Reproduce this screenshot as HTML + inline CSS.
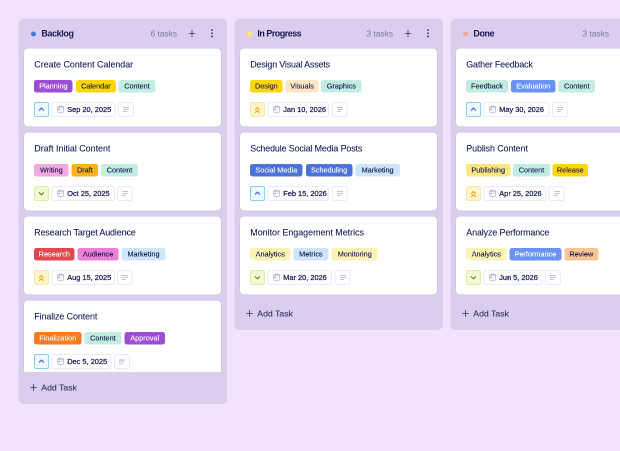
<!DOCTYPE html>
<html lang="en"><head><meta charset="utf-8"><title>Board</title>
<style>
html,body{margin:0;padding:0}
body{width:620px;height:451px;overflow:hidden;background:#f2e2fd;font-family:"Liberation Sans",sans-serif;color:#0a1551;position:relative}
.col{position:absolute;top:37px;width:417px;background:#dbcdec;border-radius:11px}
.hd{position:absolute;left:0;top:1px;width:416px;height:60px}
.dot{position:absolute;left:25.2px;top:25.2px;width:10px;height:10px;border-radius:50%}
.nm{position:absolute;left:45.8px;top:17.2px;font-size:17.8px;line-height:24px;font-weight:700;white-space:nowrap;color:#161a56;letter-spacing:-0.7px}
.ct{position:absolute;top:18px;font-size:16.8px;line-height:24px;white-space:nowrap;color:#7c7a9b}
.plus{position:absolute}
.list{position:absolute;left:0;top:59px;width:416px;overflow:hidden}
.card{position:absolute;left:11px;width:394px;height:156px;background:#fff;border-radius:8px;box-shadow:0 0 0 1px rgba(150,160,230,.35)}
.tt{position:absolute;left:20.6px;top:19.8px;font-size:17.8px;line-height:24px;white-space:nowrap;color:#151b59;-webkit-text-stroke:0.16px #151b59}
.tag{position:absolute;top:63px;height:25px;border-radius:5px;font-size:14.6px;line-height:25px;-webkit-text-stroke:0.2px;text-align:center;white-space:nowrap;overflow:hidden}
.pr{position:absolute;left:20px;top:107px;width:30px;height:30px;box-sizing:border-box;border-radius:4px;border:2px solid}
.pr .ic{position:absolute;left:-2px;top:-2px}
.dt{position:absolute;top:107px;height:30px;box-sizing:border-box;border:2px solid #e9ebfa;border-radius:5px;background:#fff}
.dt .cal{position:absolute;left:9.2px;top:5px}
.dt span{position:absolute;left:29.6px;top:1.2px;font-size:14.8px;line-height:24px;font-weight:400;white-space:nowrap;color:#23275f;-webkit-text-stroke:0.56px #23275f}
.lb{position:absolute;top:107px;height:30px;box-sizing:border-box;border:2px solid #e9ebfa;border-radius:5px;background:#fff}
.lb .li{position:absolute;top:8px}
.add{position:absolute;left:0;width:416px;height:64px}
.add span{position:absolute;left:45.6px;top:19.2px;font-size:17.4px;line-height:24px;white-space:nowrap;color:#34376b;-webkit-text-stroke:0.24px #34376b}
</style></head><body><div id="w" style="position:absolute;left:0;top:0;width:1240px;height:902px;transform:scale(.5);transform-origin:0 0;will-change:transform">

<div class="col" style="left:37px;height:771px">
<div class="hd"><i class="dot" style="background:#4b73d9"></i><b class="nm">Backlog</b><span class="ct" style="left:264px">6 tasks</span>
<svg class="plus" style="left:340.2px;top:21.8px" width="14" height="14" viewBox="0 0 7 7" stroke="#30336a" stroke-width="0.85" fill="none"><path d="M3.5 0.4 V6.6 M0.4 3.5 H6.6"/></svg>
<svg class="plus" style="left:383.8px;top:20.2px" width="6" height="18" viewBox="0 0 3 9" fill="#2a2d63"><rect x="0.7" y="0.4" width="1.6" height="1.6" rx=".5"/><rect x="0.7" y="3.5" width="1.6" height="1.6" rx=".5"/><rect x="0.7" y="6.6" width="1.6" height="1.6" rx=".5"/></svg>
</div>
<div class="list" style="height:648px">
<div class="card" style="top:1px">
<div class="tt">Create Content Calendar</div>
<span class="tag" style="left:20.2px;width:77.2px;background:#9c4dd3;color:#fff">Planning</span>
<span class="tag" style="left:103.6px;width:80.4px;background:#ffd60a;color:#0a1551">Calendar</span>
<span class="tag" style="left:189.4px;width:73.2px;background:#c3ede0;color:#0a1551">Content</span>
<div class="pr" style="background:#eff7ff;border-color:#8bd0fb"><svg class="ic" width="30" height="30" viewBox="0 0 15 15" fill="none" stroke="#4470d8" stroke-width="1.3" stroke-linecap="round" stroke-linejoin="round"><path d="M5.35 8.1 L7.4 6.05 L9.45 8.1" /></svg></div>
<div class="dt" style="left:54.8px;width:127.8px"><svg class="cal" width="14" height="14.8" viewBox="0 0 7 7.4" fill="none" stroke="#9497c0" stroke-width="0.5"><rect x="0.55" y="0.95" width="6.1" height="6.05" rx="1.2" fill="#f7f7fc"/><path d="M0.55 2.35 H6.65"/><path stroke-width="0.6" d="M2.35 0.15 V1.15 M4.95 0.15 V1.15"/><rect x="1.5" y="3.4" width="1.4" height="1.4" rx=".2" fill="#a4a7c8" stroke="none"/></svg><span>Sep 20, 2025</span></div>
<div class="lb" style="left:188.2px;width:31.4px"><svg class="li" style="left:7.8px" width="12" height="10" viewBox="0 0 6 5" fill="#c2c3dc"><rect x="0" y="0" width="6" height="1"/><rect x="0" y="2" width="6" height="1"/><rect x="0" y="4" width="4" height="1"/></svg></div>
</div>
<div class="card" style="top:169px">
<div class="tt">Draft Initial Content</div>
<span class="tag" style="left:20.2px;width:69px;background:#f5a8e0;color:#0a1551">Writing</span>
<span class="tag" style="left:95px;width:53.4px;background:#ffb020;color:#0a1551">Draft</span>
<span class="tag" style="left:154.2px;width:73.6px;background:#c3ede0;color:#0a1551">Content</span>
<div class="pr" style="background:#f3f8d4;border-color:#d6f3a2"><svg class="ic" width="30" height="30" viewBox="0 0 15 15" fill="none" stroke="#85862a" stroke-width="1.3" stroke-linecap="round" stroke-linejoin="round"><path d="M5.35 6.8 L7.4 8.85 L9.45 6.8" /></svg></div>
<div class="dt" style="left:54.8px;width:126.8px"><svg class="cal" width="14" height="14.8" viewBox="0 0 7 7.4" fill="none" stroke="#9497c0" stroke-width="0.5"><rect x="0.55" y="0.95" width="6.1" height="6.05" rx="1.2" fill="#f7f7fc"/><path d="M0.55 2.35 H6.65"/><path stroke-width="0.6" d="M2.35 0.15 V1.15 M4.95 0.15 V1.15"/><rect x="1.5" y="3.4" width="1.4" height="1.4" rx=".2" fill="#a4a7c8" stroke="none"/></svg><span>Oct 25, 2025</span></div>
<div class="lb" style="left:186.4px;width:31px"><svg class="li" style="left:7.6px" width="12" height="10" viewBox="0 0 6 5" fill="#c2c3dc"><rect x="0" y="0" width="6" height="1"/><rect x="0" y="2" width="6" height="1"/><rect x="0" y="4" width="4" height="1"/></svg></div>
</div>
<div class="card" style="top:337px">
<div class="tt" style="letter-spacing:-0.24px">Research Target Audience</div>
<span class="tag" style="left:20.2px;width:80.8px;background:#e0484e;color:#fff">Research</span>
<span class="tag" style="left:106.8px;width:82.6px;background:#ee7fd6;color:#0a1551">Audience</span>
<span class="tag" style="left:195.2px;width:87.6px;background:#cfe5fb;color:#0a1551">Marketing</span>
<div class="pr" style="background:#fcf6cb;border-color:#fee6ab"><svg class="ic" width="30" height="30" viewBox="0 0 15 15" fill="none" stroke="#f9a01f" stroke-width="1.3" stroke-linecap="round" stroke-linejoin="round"><path stroke-width="1.15" stroke-linecap="butt" d="M5.1 7.7 L7.4 5.5 L9.7 7.7 M5.1 10.8 L7.4 8.6 L9.7 10.8" /></svg></div>
<div class="dt" style="left:54.8px;width:126.8px"><svg class="cal" width="14" height="14.8" viewBox="0 0 7 7.4" fill="none" stroke="#9497c0" stroke-width="0.5"><rect x="0.55" y="0.95" width="6.1" height="6.05" rx="1.2" fill="#f7f7fc"/><path d="M0.55 2.35 H6.65"/><path stroke-width="0.6" d="M2.35 0.15 V1.15 M4.95 0.15 V1.15"/><rect x="1.5" y="3.4" width="1.4" height="1.4" rx=".2" fill="#a4a7c8" stroke="none"/></svg><span>Aug 15, 2025</span></div>
<div class="lb" style="left:186.4px;width:31px"><svg class="li" style="left:7.6px" width="12" height="10" viewBox="0 0 6 5" fill="#c2c3dc"><rect x="0" y="0" width="6" height="1"/><rect x="0" y="2" width="6" height="1"/><rect x="0" y="4" width="4" height="1"/></svg></div>
</div>
<div class="card" style="top:505px">
<div class="tt" style="letter-spacing:-0.16px">Finalize Content</div>
<span class="tag" style="left:20.2px;width:94.8px;background:#ff7b1c;color:#fff">Finalization</span>
<span class="tag" style="left:120.8px;width:74px;background:#c3ede0;color:#0a1551">Content</span>
<span class="tag" style="left:200.8px;width:81.2px;background:#9c4dd3;color:#fff">Approval</span>
<div class="pr" style="background:#eff7ff;border-color:#8bd0fb"><svg class="ic" width="30" height="30" viewBox="0 0 15 15" fill="none" stroke="#4470d8" stroke-width="1.3" stroke-linecap="round" stroke-linejoin="round"><path d="M5.35 8.1 L7.4 6.05 L9.45 8.1" /></svg></div>
<div class="dt" style="left:54.8px;width:120.6px"><svg class="cal" width="14" height="14.8" viewBox="0 0 7 7.4" fill="none" stroke="#9497c0" stroke-width="0.5"><rect x="0.55" y="0.95" width="6.1" height="6.05" rx="1.2" fill="#f7f7fc"/><path d="M0.55 2.35 H6.65"/><path stroke-width="0.6" d="M2.35 0.15 V1.15 M4.95 0.15 V1.15"/><rect x="1.5" y="3.4" width="1.4" height="1.4" rx=".2" fill="#a4a7c8" stroke="none"/></svg><span>Dec 5, 2025</span></div>
<div class="lb" style="left:180.4px;width:31.4px"><svg class="li" style="left:7.6px" width="12" height="10" viewBox="0 0 6 5" fill="#d2d3e6"><rect x="0" y="0.1" width="5.7" height="3.15"/><rect x="0" y="4" width="3.8" height="0.8" fill="#c2c3dc"/></svg></div>
</div>
</div>
<div class="add" style="top:707px"><svg class="plus" style="left:22.8px;top:23.8px" width="14" height="14" viewBox="0 0 7 7" stroke="#34376b" stroke-width="0.85" fill="none"><path d="M3.5 0.2 V6.8 M0.2 3.5 H6.8"/></svg><span>Add Task</span></div>
</div>
<div class="col" style="left:469px;height:623px">
<div class="hd"><i class="dot" style="background:#fce96a"></i><b class="nm" style="letter-spacing:-0.94px">In Progress</b><span class="ct" style="left:264px">3 tasks</span>
<svg class="plus" style="left:340.2px;top:21.8px" width="14" height="14" viewBox="0 0 7 7" stroke="#30336a" stroke-width="0.85" fill="none"><path d="M3.5 0.4 V6.6 M0.4 3.5 H6.6"/></svg>
<svg class="plus" style="left:383.8px;top:20.2px" width="6" height="18" viewBox="0 0 3 9" fill="#2a2d63"><rect x="0.7" y="0.4" width="1.6" height="1.6" rx=".5"/><rect x="0.7" y="3.5" width="1.6" height="1.6" rx=".5"/><rect x="0.7" y="6.6" width="1.6" height="1.6" rx=".5"/></svg>
</div>
<div class="list" style="height:520px">
<div class="card" style="top:1px">
<div class="tt" style="letter-spacing:-0.33px">Design Visual Assets</div>
<span class="tag" style="left:20.2px;width:65px;background:#ffd60a;color:#0a1551">Design</span>
<span class="tag" style="left:91px;width:66.4px;background:#fde6c0;color:#0a1551">Visuals</span>
<span class="tag" style="left:162.4px;width:80.4px;background:#c3ede0;color:#0a1551">Graphics</span>
<div class="pr" style="background:#fcf6cb;border-color:#fee6ab"><svg class="ic" width="30" height="30" viewBox="0 0 15 15" fill="none" stroke="#f9a01f" stroke-width="1.3" stroke-linecap="round" stroke-linejoin="round"><path stroke-width="1.15" stroke-linecap="butt" d="M5.1 7.7 L7.4 5.5 L9.7 7.7 M5.1 10.8 L7.4 8.6 L9.7 10.8" /></svg></div>
<div class="dt" style="left:54.8px;width:123.6px"><svg class="cal" width="14" height="14.8" viewBox="0 0 7 7.4" fill="none" stroke="#9497c0" stroke-width="0.5"><rect x="0.55" y="0.95" width="6.1" height="6.05" rx="1.2" fill="#f7f7fc"/><path d="M0.55 2.35 H6.65"/><path stroke-width="0.6" d="M2.35 0.15 V1.15 M4.95 0.15 V1.15"/><rect x="1.5" y="3.4" width="1.4" height="1.4" rx=".2" fill="#a4a7c8" stroke="none"/></svg><span>Jan 10, 2026</span></div>
<div class="lb" style="left:183.6px;width:31.6px"><svg class="li" style="left:8.4px" width="12" height="10" viewBox="0 0 6 5" fill="#c2c3dc"><rect x="0" y="0" width="6" height="1"/><rect x="0" y="2" width="6" height="1"/><rect x="0" y="4" width="4" height="1"/></svg></div>
</div>
<div class="card" style="top:169px">
<div class="tt" style="letter-spacing:-0.24px">Schedule Social Media Posts</div>
<span class="tag" style="left:20.2px;width:104.8px;background:#4d72d9;color:#fff">Social Media</span>
<span class="tag" style="left:131.8px;width:92.8px;background:#4d72d9;color:#fff">Scheduling</span>
<span class="tag" style="left:230.8px;width:88.8px;background:#cfe5fb;color:#0a1551">Marketing</span>
<div class="pr" style="background:#eff7ff;border-color:#8bd0fb"><svg class="ic" width="30" height="30" viewBox="0 0 15 15" fill="none" stroke="#4470d8" stroke-width="1.3" stroke-linecap="round" stroke-linejoin="round"><path d="M5.35 8.1 L7.4 6.05 L9.45 8.1" /></svg></div>
<div class="dt" style="left:54.8px;width:123.6px"><svg class="cal" width="14" height="14.8" viewBox="0 0 7 7.4" fill="none" stroke="#9497c0" stroke-width="0.5"><rect x="0.55" y="0.95" width="6.1" height="6.05" rx="1.2" fill="#f7f7fc"/><path d="M0.55 2.35 H6.65"/><path stroke-width="0.6" d="M2.35 0.15 V1.15 M4.95 0.15 V1.15"/><rect x="1.5" y="3.4" width="1.4" height="1.4" rx=".2" fill="#a4a7c8" stroke="none"/></svg><span>Feb 15, 2026</span></div>
<div class="lb" style="left:183.6px;width:31.6px"><svg class="li" style="left:8.4px" width="12" height="10" viewBox="0 0 6 5" fill="#c2c3dc"><rect x="0" y="0" width="6" height="1"/><rect x="0" y="2" width="6" height="1"/><rect x="0" y="4" width="4" height="1"/></svg></div>
</div>
<div class="card" style="top:337px">
<div class="tt">Monitor Engagement Metrics</div>
<span class="tag" style="left:20.2px;width:80.6px;background:#fdf3b4;color:#0a1551">Analytics</span>
<span class="tag" style="left:107px;width:69.6px;background:#cfe5fb;color:#0a1551">Metrics</span>
<span class="tag" style="left:182.8px;width:93.4px;background:#fdf3b4;color:#0a1551">Monitoring</span>
<div class="pr" style="background:#f3f8d4;border-color:#d6f3a2"><svg class="ic" width="30" height="30" viewBox="0 0 15 15" fill="none" stroke="#85862a" stroke-width="1.3" stroke-linecap="round" stroke-linejoin="round"><path d="M5.35 6.8 L7.4 8.85 L9.45 6.8" /></svg></div>
<div class="dt" style="left:54.8px;width:129.4px"><svg class="cal" width="14" height="14.8" viewBox="0 0 7 7.4" fill="none" stroke="#9497c0" stroke-width="0.5"><rect x="0.55" y="0.95" width="6.1" height="6.05" rx="1.2" fill="#f7f7fc"/><path d="M0.55 2.35 H6.65"/><path stroke-width="0.6" d="M2.35 0.15 V1.15 M4.95 0.15 V1.15"/><rect x="1.5" y="3.4" width="1.4" height="1.4" rx=".2" fill="#a4a7c8" stroke="none"/></svg><span>Mar 20, 2026</span></div>
<div class="lb" style="left:189.4px;width:32px"><svg class="li" style="left:8.6px" width="12" height="10" viewBox="0 0 6 5" fill="#c2c3dc"><rect x="0" y="0" width="6" height="1"/><rect x="0" y="2" width="6" height="1"/><rect x="0" y="4" width="4" height="1"/></svg></div>
</div>
</div>
<div class="add" style="top:559px"><svg class="plus" style="left:22.8px;top:23.8px" width="14" height="14" viewBox="0 0 7 7" stroke="#34376b" stroke-width="0.85" fill="none"><path d="M3.5 0.2 V6.8 M0.2 3.5 H6.8"/></svg><span>Add Task</span></div>
</div>
<div class="col" style="left:901px;height:623px">
<div class="hd"><i class="dot" style="background:#f1a59f"></i><b class="nm">Done</b><span class="ct" style="left:264px">3 tasks</span>
<svg class="plus" style="left:340.2px;top:21.8px" width="14" height="14" viewBox="0 0 7 7" stroke="#30336a" stroke-width="0.85" fill="none"><path d="M3.5 0.4 V6.6 M0.4 3.5 H6.6"/></svg>
<svg class="plus" style="left:383.8px;top:20.2px" width="6" height="18" viewBox="0 0 3 9" fill="#2a2d63"><rect x="0.7" y="0.4" width="1.6" height="1.6" rx=".5"/><rect x="0.7" y="3.5" width="1.6" height="1.6" rx=".5"/><rect x="0.7" y="6.6" width="1.6" height="1.6" rx=".5"/></svg>
</div>
<div class="list" style="height:520px">
<div class="card" style="top:1px">
<div class="tt" style="letter-spacing:-0.3px">Gather Feedback</div>
<span class="tag" style="left:20.2px;width:83.8px;background:#c3ede0;color:#0a1551">Feedback</span>
<span class="tag" style="left:110.2px;width:88.8px;background:#6b93f5;color:#fff">Evaluation</span>
<span class="tag" style="left:204.6px;width:73.8px;background:#c3ede0;color:#0a1551">Content</span>
<div class="pr" style="background:#eff7ff;border-color:#8bd0fb"><svg class="ic" width="30" height="30" viewBox="0 0 15 15" fill="none" stroke="#4470d8" stroke-width="1.3" stroke-linecap="round" stroke-linejoin="round"><path d="M5.35 8.1 L7.4 6.05 L9.45 8.1" /></svg></div>
<div class="dt" style="left:54.8px;width:131.8px"><svg class="cal" width="14" height="14.8" viewBox="0 0 7 7.4" fill="none" stroke="#9497c0" stroke-width="0.5"><rect x="0.55" y="0.95" width="6.1" height="6.05" rx="1.2" fill="#f7f7fc"/><path d="M0.55 2.35 H6.65"/><path stroke-width="0.6" d="M2.35 0.15 V1.15 M4.95 0.15 V1.15"/><rect x="1.5" y="3.4" width="1.4" height="1.4" rx=".2" fill="#a4a7c8" stroke="none"/></svg><span>May 30, 2026</span></div>
<div class="lb" style="left:192px;width:31.8px"><svg class="li" style="left:8px" width="12" height="10" viewBox="0 0 6 5" fill="#c2c3dc"><rect x="0" y="0" width="6" height="1"/><rect x="0" y="2" width="6" height="1"/><rect x="0" y="4" width="4" height="1"/></svg></div>
</div>
<div class="card" style="top:169px">
<div class="tt" style="letter-spacing:-0.18px">Publish Content</div>
<span class="tag" style="left:20.2px;width:88.4px;background:#fde580;color:#0a1551">Publishing</span>
<span class="tag" style="left:114.4px;width:73.2px;background:#c3ede0;color:#0a1551">Content</span>
<span class="tag" style="left:193.2px;width:70.8px;background:#ffd60a;color:#0a1551">Release</span>
<div class="pr" style="background:#fcf6cb;border-color:#fee6ab"><svg class="ic" width="30" height="30" viewBox="0 0 15 15" fill="none" stroke="#f9a01f" stroke-width="1.3" stroke-linecap="round" stroke-linejoin="round"><path stroke-width="1.15" stroke-linecap="butt" d="M5.1 7.7 L7.4 5.5 L9.7 7.7 M5.1 10.8 L7.4 8.6 L9.7 10.8" /></svg></div>
<div class="dt" style="left:54.8px;width:125.2px"><svg class="cal" width="14" height="14.8" viewBox="0 0 7 7.4" fill="none" stroke="#9497c0" stroke-width="0.5"><rect x="0.55" y="0.95" width="6.1" height="6.05" rx="1.2" fill="#f7f7fc"/><path d="M0.55 2.35 H6.65"/><path stroke-width="0.6" d="M2.35 0.15 V1.15 M4.95 0.15 V1.15"/><rect x="1.5" y="3.4" width="1.4" height="1.4" rx=".2" fill="#a4a7c8" stroke="none"/></svg><span>Apr 25, 2026</span></div>
<div class="lb" style="left:185.4px;width:31.8px"><svg class="li" style="left:8.6px" width="12" height="10" viewBox="0 0 6 5" fill="#c2c3dc"><rect x="0" y="0" width="6" height="1"/><rect x="0" y="2" width="6" height="1"/><rect x="0" y="4" width="4" height="1"/></svg></div>
</div>
<div class="card" style="top:337px">
<div class="tt" style="letter-spacing:-0.22px">Analyze Performance</div>
<span class="tag" style="left:20.2px;width:80.8px;background:#fdf3b4;color:#0a1551">Analytics</span>
<span class="tag" style="left:106.6px;width:104.2px;background:#6b93f5;color:#fff">Performance</span>
<span class="tag" style="left:216.6px;width:68px;background:#fbc490;color:#0a1551">Review</span>
<div class="pr" style="background:#f3f8d4;border-color:#d6f3a2"><svg class="ic" width="30" height="30" viewBox="0 0 15 15" fill="none" stroke="#85862a" stroke-width="1.3" stroke-linecap="round" stroke-linejoin="round"><path d="M5.35 6.8 L7.4 8.85 L9.45 6.8" /></svg></div>
<div class="dt" style="left:54.8px;width:117.8px"><svg class="cal" width="14" height="14.8" viewBox="0 0 7 7.4" fill="none" stroke="#9497c0" stroke-width="0.5"><rect x="0.55" y="0.95" width="6.1" height="6.05" rx="1.2" fill="#f7f7fc"/><path d="M0.55 2.35 H6.65"/><path stroke-width="0.6" d="M2.35 0.15 V1.15 M4.95 0.15 V1.15"/><rect x="1.5" y="3.4" width="1.4" height="1.4" rx=".2" fill="#a4a7c8" stroke="none"/></svg><span>Jun 5, 2026</span></div>
<div class="lb" style="left:178px;width:31.8px"><svg class="li" style="left:8px" width="12" height="10" viewBox="0 0 6 5" fill="#c2c3dc"><rect x="0" y="0" width="6" height="1"/><rect x="0" y="2" width="6" height="1"/><rect x="0" y="4" width="4" height="1"/></svg></div>
</div>
</div>
<div class="add" style="top:559px"><svg class="plus" style="left:22.8px;top:23.8px" width="14" height="14" viewBox="0 0 7 7" stroke="#34376b" stroke-width="0.85" fill="none"><path d="M3.5 0.2 V6.8 M0.2 3.5 H6.8"/></svg><span>Add Task</span></div>
</div>
</div></body></html>
